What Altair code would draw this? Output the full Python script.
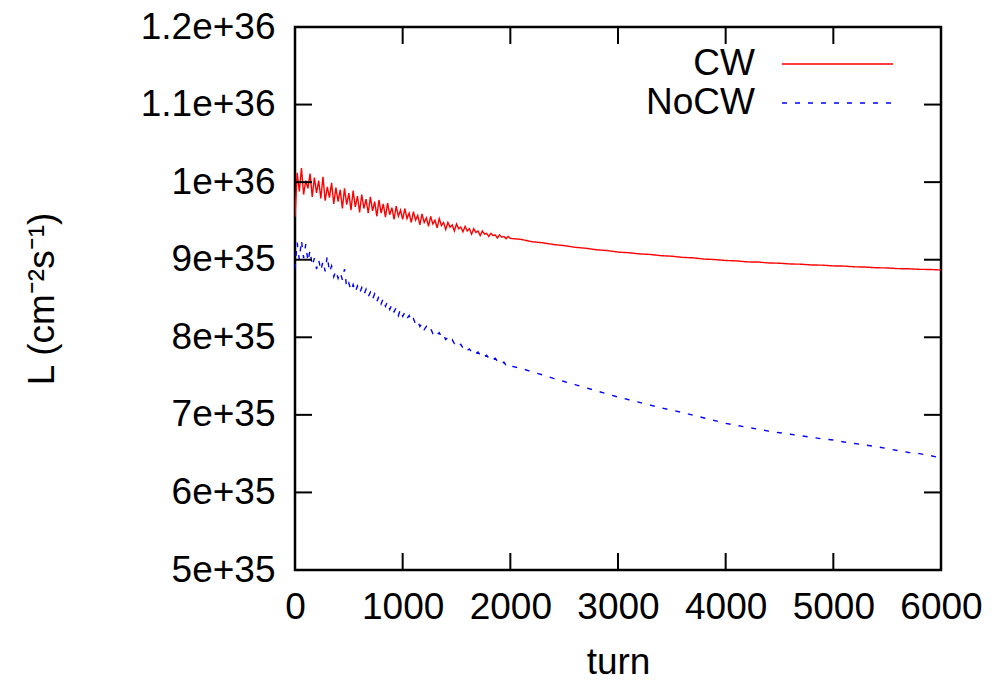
import altair as alt
import pandas as pd

# ---------------- data (luminosity in units of 1e35 cm^-2 s^-1) ----------------
TURNS_EARLY = list(range(0, 2001, 20))
TURNS_LATE = list(range(2100, 6001, 100))

CW_EARLY = [
    9.55, 10.12, 9.88, 10.18, 9.84, 10.02, 9.92, 10.11, 9.81, 10.06,
    9.86, 10.02, 9.79, 10.07, 9.76, 9.94, 9.80, 9.99, 9.72, 9.93,
    9.75, 9.90, 9.66, 9.92, 9.71, 9.86, 9.64, 9.89, 9.68, 9.82,
    9.61, 9.84, 9.66, 9.78, 9.60, 9.81, 9.63, 9.75, 9.56, 9.77,
    9.60, 9.72, 9.55, 9.73, 9.58, 9.67, 9.52, 9.69, 9.56, 9.64,
    9.52, 9.66, 9.53, 9.60, 9.48, 9.62, 9.51, 9.57, 9.45, 9.59,
    9.48, 9.54, 9.43, 9.56, 9.46, 9.51, 9.41, 9.53, 9.44, 9.48,
    9.39, 9.48, 9.42, 9.45, 9.37, 9.46, 9.40, 9.42, 9.36, 9.43,
    9.37, 9.40, 9.33, 9.40, 9.35, 9.37, 9.31, 9.37, 9.33, 9.34,
    9.30, 9.34, 9.31, 9.32, 9.28, 9.32, 9.29, 9.30, 9.27, 9.30,
    9.275,
]
CW_LATE = [
    9.262, 9.232, 9.218, 9.196, 9.182, 9.160, 9.148, 9.128, 9.118, 9.098,
    9.090, 9.075, 9.068, 9.052, 9.045, 9.030, 9.024, 9.008, 9.002, 8.990,
    8.985, 8.972, 8.970, 8.958, 8.955, 8.945, 8.942, 8.932, 8.930, 8.920,
    8.918, 8.908, 8.905, 8.896, 8.894, 8.885, 8.883, 8.876, 8.874, 8.868,
]
NOCW_EARLY = [
    8.88, 9.22, 9.00, 9.25, 9.02, 9.20, 8.98, 9.12, 8.92, 9.02,
    8.88, 9.00, 8.86, 8.98, 8.85, 9.05, 8.84, 8.92, 8.78, 8.86,
    8.76, 8.84, 8.74, 8.88, 8.64, 8.70, 8.60, 8.68, 8.58, 8.66,
    8.57, 8.64, 8.55, 8.62, 8.52, 8.58, 8.49, 8.56, 8.46, 8.53,
    8.43, 8.50, 8.40, 8.46, 8.36, 8.42, 8.33, 8.38, 8.28, 8.36,
    8.27, 8.32, 8.24, 8.28, 8.20, 8.24, 8.17, 8.21, 8.14, 8.18,
    8.10, 8.14, 8.08, 8.11, 8.05, 8.08, 8.03, 8.06, 8.00, 8.03,
    7.97, 8.00, 7.95, 7.97, 7.92, 7.94, 7.89, 7.91, 7.86, 7.88,
    7.83, 7.85, 7.81, 7.83, 7.79, 7.81, 7.77, 7.79, 7.75, 7.77,
    7.73, 7.75, 7.71, 7.73, 7.69, 7.70, 7.66, 7.68, 7.64, 7.66,
    7.63,
]
NOCW_LATE = [
    7.600, 7.555, 7.515, 7.470, 7.430, 7.390, 7.350, 7.310, 7.270, 7.230,
    7.195, 7.160, 7.125, 7.090, 7.060, 7.030, 6.995, 6.960, 6.925, 6.890,
    6.865, 6.840, 6.815, 6.790, 6.770, 6.750, 6.730, 6.710, 6.690, 6.675,
    6.650, 6.630, 6.610, 6.590, 6.565, 6.540, 6.515, 6.500, 6.475, 6.445,
]

SERIES = ["CW", "NoCW"]
COLORS = ["#ff0000", "#0000ff"]
X_TICKS = [0, 1000, 2000, 3000, 4000, 5000, 6000]
Y_TICKS = [5e35, 6e35, 7e35, 8e35, 9e35, 1e36, 1.1e36, 1.2e36]
UNIT = 1e35

# ---------------- layout / style ----------------
FONT = "Liberation Sans"
FS = 37
W, H = 646, 543
TICK = 17

rows = []
for name, vals in ((SERIES[0], CW_EARLY + CW_LATE), (SERIES[1], NOCW_EARLY + NOCW_LATE)):
    for t, v in zip(TURNS_EARLY + TURNS_LATE, vals):
        rows.append({"turn": t, "L": v * UNIT, "series": name})
df = pd.DataFrame(rows)

xs = alt.Scale(domain=[0, 6000], nice=False, zero=False)
ys = alt.Scale(domain=[5e35, 1.2e36], nice=False, zero=False)
cs = alt.Scale(domain=SERIES, range=COLORS)
ds = alt.Scale(domain=SERIES, range=[[1, 0], [5, 8]])

x_axis = alt.Axis(
    values=X_TICKS, format="d", title="turn",
    labelFont=FONT, labelFontSize=FS, labelColor="black", labelPadding=19,
    labelFlush=False, labelOverlap=False, ticks=False, domain=False, grid=False,
    titleFont=FONT, titleFontSize=FS, titleFontWeight="normal", titleColor="black",
    titleX=W / 2, titleY=103, titleAlign="center", titleBaseline="alphabetic",
)
y_axis = alt.Axis(
    values=Y_TICKS, format="~e", title="L (cm⁻²s⁻¹)",
    labelFont=FONT, labelFontSize=FS, labelColor="black", labelPadding=20,
    labelFlush=False, labelOverlap=False, ticks=False, domain=False, grid=False,
    titleFont=FONT, titleFontSize=FS, titleFontWeight="normal", titleColor="black",
    titleAngle=270, titleX=-242, titleY=H / 2, titleAlign="center",
    titleBaseline="alphabetic",
)

lines = alt.Chart(df).mark_line(strokeWidth=1.4, clip=True).encode(
    x=alt.X("turn:Q", scale=xs, axis=x_axis),
    y=alt.Y("L:Q", scale=ys, axis=y_axis),
    color=alt.Color("series:N", scale=cs, legend=None),
    strokeDash=alt.StrokeDash("series:N", scale=ds, legend=None),
)

xt = pd.DataFrame({"turn": X_TICKS})
yt = pd.DataFrame({"L": Y_TICKS})
tick_style = dict(color="black", strokeWidth=2)

x_bottom = alt.Chart(xt).mark_rule(**tick_style).encode(
    x=alt.X("turn:Q", scale=xs, axis=x_axis), y=alt.value(H - TICK), y2=alt.value(H))
x_top = alt.Chart(xt).mark_rule(**tick_style).encode(
    x=alt.X("turn:Q", scale=xs, axis=x_axis), y=alt.value(0), y2=alt.value(TICK))
y_left = alt.Chart(yt).mark_rule(**tick_style).encode(
    y=alt.Y("L:Q", scale=ys, axis=y_axis), x=alt.value(0), x2=alt.value(TICK))
y_right = alt.Chart(yt).mark_rule(**tick_style).encode(
    y=alt.Y("L:Q", scale=ys, axis=y_axis), x=alt.value(W - TICK), x2=alt.value(W))

# legend (gnuplot style: label on the left, line sample on the right)
leg_layers = []
for i, name in enumerate(SERIES):
    ldf = pd.DataFrame({"series": [name]})
    ypos = 37 + i * 39
    leg_layers.append(
        alt.Chart(ldf).mark_text(align="right", baseline="middle", font=FONT,
                                 fontSize=FS, color="black").encode(
            text="series:N", x=alt.value(460), y=alt.value(ypos)))
    leg_layers.append(
        alt.Chart(ldf).mark_rule(strokeWidth=1.4).encode(
            x=alt.value(487), x2=alt.value(598), y=alt.value(ypos),
            color=alt.Color("series:N", scale=cs, legend=None),
            strokeDash=alt.StrokeDash("series:N", scale=ds, legend=None)))

chart = alt.layer(lines, x_bottom, x_top, y_left, y_right, *leg_layers).properties(
    width=W, height=H,
    autosize=alt.AutoSizeParams(type="none"),
    padding={"left": 295, "top": 27, "right": 51, "bottom": 110},
    background="white",
).configure_view(stroke="black", strokeWidth=2.5)

chart.save("out.html", embed_options={"renderer": "svg", "actions": False})
